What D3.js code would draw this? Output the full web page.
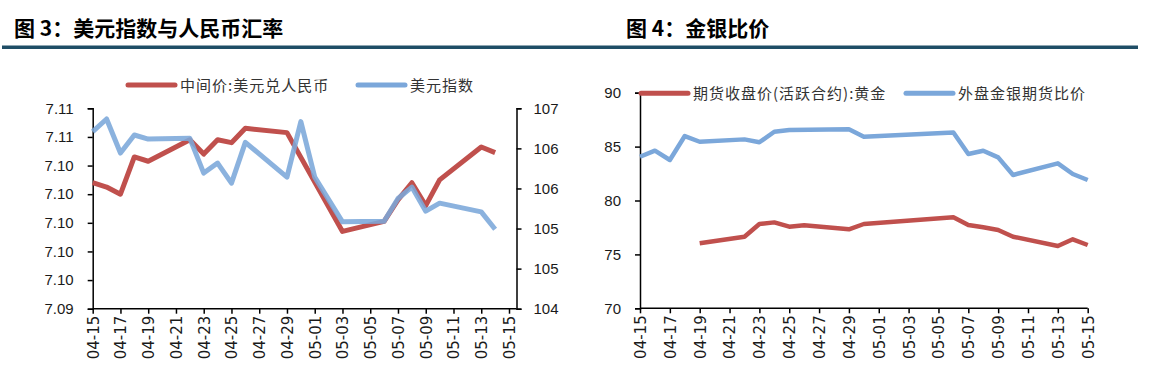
<!DOCTYPE html>
<html><head><meta charset="utf-8">
<script src="https://cdn.jsdelivr.net/npm/d3@7"></script>
<style>
html,body{margin:0;padding:0;background:#fff;}
svg{display:block;}
.title{font-family:"Noto Sans CJK SC",sans-serif;font-weight:700;font-size:21px;fill:#000;}
.leg{font-family:"Noto Sans CJK SC",sans-serif;font-size:15px;fill:#333;letter-spacing:1px;}
.ytk text{font-family:"Liberation Sans",Arial,sans-serif;font-size:15px;fill:#1a1a1a;}
.xtk text{font-family:"DejaVu Sans",sans-serif;font-size:15px;fill:#1a1a1a;}
.ax path,.ax line{stroke:#000;stroke-width:1.5;}
</style></head>
<body>
<svg id="c" width="1161" height="376"></svg>
<script>
// ---------- data ----------
const titleLeft = "图 3：美元指数与人民币汇率";
const titleRight = "图 4：金银比价";
const xTickLabels = ["04-15","04-17","04-19","04-21","04-23","04-25","04-27","04-29","05-01","05-03","05-05","05-07","05-09","05-11","05-13","05-15"];

const cnyName = "中间价:美元兑人民币";
const cnyDates = ["04-15","04-16","04-17","04-18","04-19","04-22","04-23","04-24","04-25","04-26","04-29","05-03","05-06","05-07","05-08","05-09","05-10","05-13","05-14"];
const cnyValues = [7.1028,7.1025,7.1020,7.1046,7.1043,7.1058,7.1048,7.1058,7.1056,7.1066,7.1063,7.0994,7.1001,7.1016,7.1028,7.1012,7.1030,7.1053,7.1049];

const dxyName = "美元指数";
const dxyDates = ["04-15","04-16","04-17","04-18","04-19","04-22","04-23","04-24","04-25","04-26","04-29","04-30","05-01","05-03","05-06","05-07","05-08","05-09","05-10","05-13","05-14"];
const dxyValues = [106.65,106.84,106.33,106.60,106.54,106.55,106.03,106.18,105.88,106.49,105.97,106.80,105.97,105.30,105.31,105.65,105.82,105.46,105.58,105.45,105.19];

const cnyTicks = [7.094,7.096,7.098,7.100,7.102,7.104,7.106,7.108];
const dxyTicks = [104,104.6,105.2,105.8,106.4,107];

const goldName = "期货收盘价(活跃合约):黄金";
const goldDates = ["04-19","04-22","04-23","04-24","04-25","04-26","04-29","04-30","05-06","05-07","05-08","05-09","05-10","05-13","05-14","05-15"];
const goldValues = [76.03,76.64,77.82,77.97,77.57,77.70,77.33,77.82,78.44,77.73,77.51,77.26,76.64,75.78,76.40,75.87];

const ratioName = "外盘金银期货比价";
const ratioDates = ["04-15","04-16","04-17","04-18","04-19","04-22","04-23","04-24","04-25","04-29","04-30","05-06","05-07","05-08","05-09","05-10","05-13","05-14","05-15"];
const ratioValues = [84.06,84.62,83.76,85.98,85.45,85.67,85.40,86.38,86.54,86.60,85.92,86.30,84.31,84.62,84.00,82.37,83.45,82.46,81.90];

const rightTicks = [70,75,80,85,90];

// ---------- helpers ----------
const parse = d3.timeParse("%Y-%m-%d");
const P = s => parse("2024-" + s);
const RED = "#c0504d", BLUE = "#7ba7da", RULE = "#1f4e66";
const svg = d3.select("#c");

// titles and rule
svg.append("text").attr("class","title").attr("x",14).attr("y",36).text(titleLeft);
svg.append("text").attr("class","title").attr("x",626).attr("y",36).text(titleRight);
svg.append("rect").attr("x",2).attr("y",45.5).attr("width",1136).attr("height",3.5).attr("fill",RULE);

function drawXAxis(g, x, y0, xEndLine) {
  const ax = g.append("g").attr("class","ax xtk").attr("transform",`translate(0,${y0})`)
    .call(d3.axisBottom(x).tickValues(xTickLabels.map(P)).tickSize(5).tickPadding(6)
      .tickFormat(d3.timeFormat("%m-%d")));
  ax.select(".domain").remove();
  ax.append("line").attr("x1",x.range()[0]).attr("x2",xEndLine).attr("y1",0).attr("y2",0);
  ax.selectAll("text").attr("transform","rotate(-90)").attr("text-anchor","end")
    .attr("x",-7).attr("y",0).attr("dy","0.36em");
}

function legendItem(g, x, y, color, label) {
  g.append("line").attr("x1",x).attr("x2",x+47).attr("y1",y).attr("y2",y)
    .attr("stroke",color).attr("stroke-width",5).attr("stroke-linecap","round");
  g.append("text").attr("class","leg").attr("x",x+52).attr("y",y+5.5).text(label);
}

// ---------- left chart ----------
{
  const g = svg.append("g");
  const x = d3.scaleTime().domain([P("04-15"),P("05-15")]).range([92.7,509]);
  const yL = d3.scaleLinear().domain([7.094,7.108]).range([308.7,108.3]);
  const yR = d3.scaleLinear().domain([104,107]).range([308.7,108.3]);
  const rightX = 516.5;

  g.append("g").attr("class","ax ytk").attr("transform","translate(92.7,0)")
    .call(d3.axisLeft(yL).tickValues(cnyTicks).tickFormat(d3.format(".2f")).tickSize(5).tickPadding(14));
  g.append("g").attr("class","ax ytk").attr("transform",`translate(${rightX},0)`)
    .call(d3.axisRight(yR).tickValues(dxyTicks).tickFormat(d3.format(".0f")).tickSize(5).tickPadding(12));
  drawXAxis(g, x, 308.7, rightX);

  const cnyData = cnyDates.map((d,i)=>({d:P(d),v:cnyValues[i]}));
  const dxyData = dxyDates.map((d,i)=>({d:P(d),v:dxyValues[i]}));
  g.append("path").datum(cnyData).attr("fill","none").attr("stroke",RED).attr("stroke-width",5)
    .attr("stroke-linejoin","round").attr("d", d3.line().x(p=>x(p.d)).y(p=>yL(p.v)));
  g.append("path").datum(dxyData).attr("fill","none").attr("stroke",BLUE).attr("stroke-width",5)
    .attr("stroke-opacity",0.88).attr("stroke-linejoin","round").attr("d", d3.line().x(p=>x(p.d)).y(p=>yR(p.v)));

  legendItem(g, 128, 85, RED, cnyName);
  legendItem(g, 358, 85, BLUE, dxyName);
}

// ---------- right chart ----------
{
  const g = svg.append("g");
  const x = d3.scaleTime().domain([P("04-15"),P("05-15")]).range([640,1087.7]);
  const y = d3.scaleLinear().domain([70,90]).range([308.3,92.7]);

  const ya = g.append("g").attr("class","ax ytk").attr("transform","translate(640,0)")
    .call(d3.axisLeft(y).tickValues(rightTicks).tickFormat(d3.format("d")).tickSize(5).tickPadding(14));
  ya.selectAll("text").style("font-size","15px");
  drawXAxis(g, x, 308.3, 1087.7);

  const goldData = goldDates.map((d,i)=>({d:P(d),v:goldValues[i]}));
  const ratioData = ratioDates.map((d,i)=>({d:P(d),v:ratioValues[i]}));
  g.append("path").datum(goldData).attr("fill","none").attr("stroke",RED).attr("stroke-width",4.5)
    .attr("stroke-linejoin","round").attr("d", d3.line().x(p=>x(p.d)).y(p=>y(p.v)));
  g.append("path").datum(ratioData).attr("fill","none").attr("stroke",BLUE).attr("stroke-width",4.5)
    .attr("stroke-linejoin","round").attr("d", d3.line().x(p=>x(p.d)).y(p=>y(p.v)));

  legendItem(g, 641, 93.3, RED, goldName);
  legendItem(g, 906, 93.3, BLUE, ratioName);
}
</script>
</body></html>
